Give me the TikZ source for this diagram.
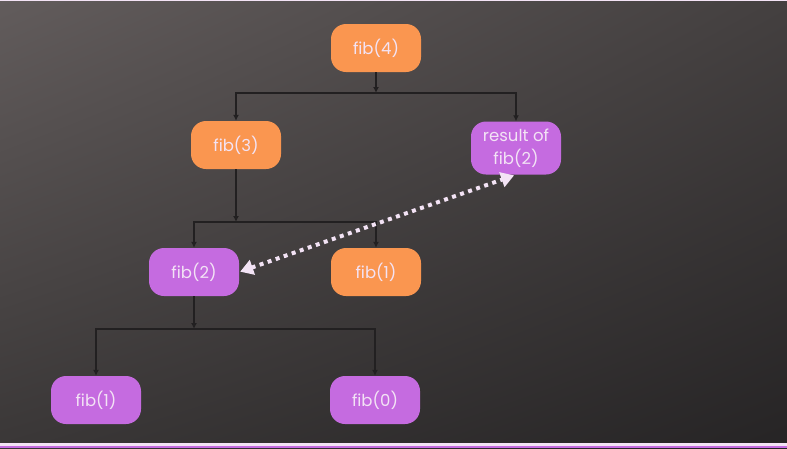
\documentclass[tikz,border=0pt]{standalone}
\usepackage{fontspec}
\setmainfont{Poppins}
\usepackage{tikz}
\usetikzlibrary{arrows.meta,shapes,positioning,calc,backgrounds,shadings}
\definecolor{orangefib}{RGB}{250,150,80}
\definecolor{purplefib}{RGB}{197,107,224}
\definecolor{textfib}{RGB}{243,227,245}
\definecolor{linefib}{RGB}{34,32,33}
\definecolor{bgul}{RGB}{98,92,92}
\definecolor{bgur}{RGB}{68,64,64}
\definecolor{bgll}{RGB}{58,55,55}
\definecolor{bglr}{RGB}{38,36,37}

\begin{document}
\begin{tikzpicture}[x=1pt,y=-1pt]

           \tikzstyle{every node}=[rectangle, rounded corners=15pt, minimum width=90pt, minimum height=48pt, inner sep=2pt, align=center, text=textfib, font=\fontsize{16.5}{23}\selectfont]
           \tikzstyle{call}=[fill=orangefib]
           \tikzstyle{memo}=[fill=purplefib]
           \tikzstyle{tree}=[-{Latex[length=6pt,width=6pt]}, draw=linefib, line width=2.6pt]
           \tikzstyle{reuse}=[{Triangle[length=13pt,width=15pt]}-{Triangle[length=13pt,width=15pt]}, draw=textfib, line width=4pt, dash pattern=on 4pt off 4.5pt]

    % background
    \shade[upper left=bgul, upper right=bgur, lower left=bgll, lower right=bglr]
           (0,0) rectangle (787,448);
    \fill[textfib] (0,0) rectangle (787,1);
    \fill[textfib] (0,443) rectangle (787,446);
    \fill[purplefib] (0,446) rectangle (787,448);

   \node[call] (A1) at (376,48) {fib(4)};
    \node[call] (B1) at (236,145) {fib(3)};
    \node[memo, minimum height=53pt] (B2) at (516,148) {result of\\fib(2)};
    \node[memo] (C1) at (194,272) {fib(2)};
    \node[call] (C2) at (376,272) {fib(1)};
    \node[memo] (D1) at (96,400) {fib(1)};
    \node[memo] (D2) at (375,400) {fib(0)};

    \coordinate (J1) at (376,93);
    \coordinate (J2) at (236,222);
    \coordinate (J3) at (194,329);

    \draw[tree] (A1) -- (J1);
    \draw[tree] (J1) -| (B1);
    \draw[tree] (J1) -| (B2);
    \draw[tree] (B1) -- (J2);
    \draw[tree] (J2) -| (C1);
    \draw[tree] (J2) -| (C2);
    \draw[tree] (C1) -- (J3);
    \draw[tree] (J3) -| (D1);
    \draw[tree] (J3) -| (D2);

    \draw[reuse, shorten <=1pt, shorten >=2pt] (C1.east) -- (B2.south);
 \end{tikzpicture}
\end{document}
